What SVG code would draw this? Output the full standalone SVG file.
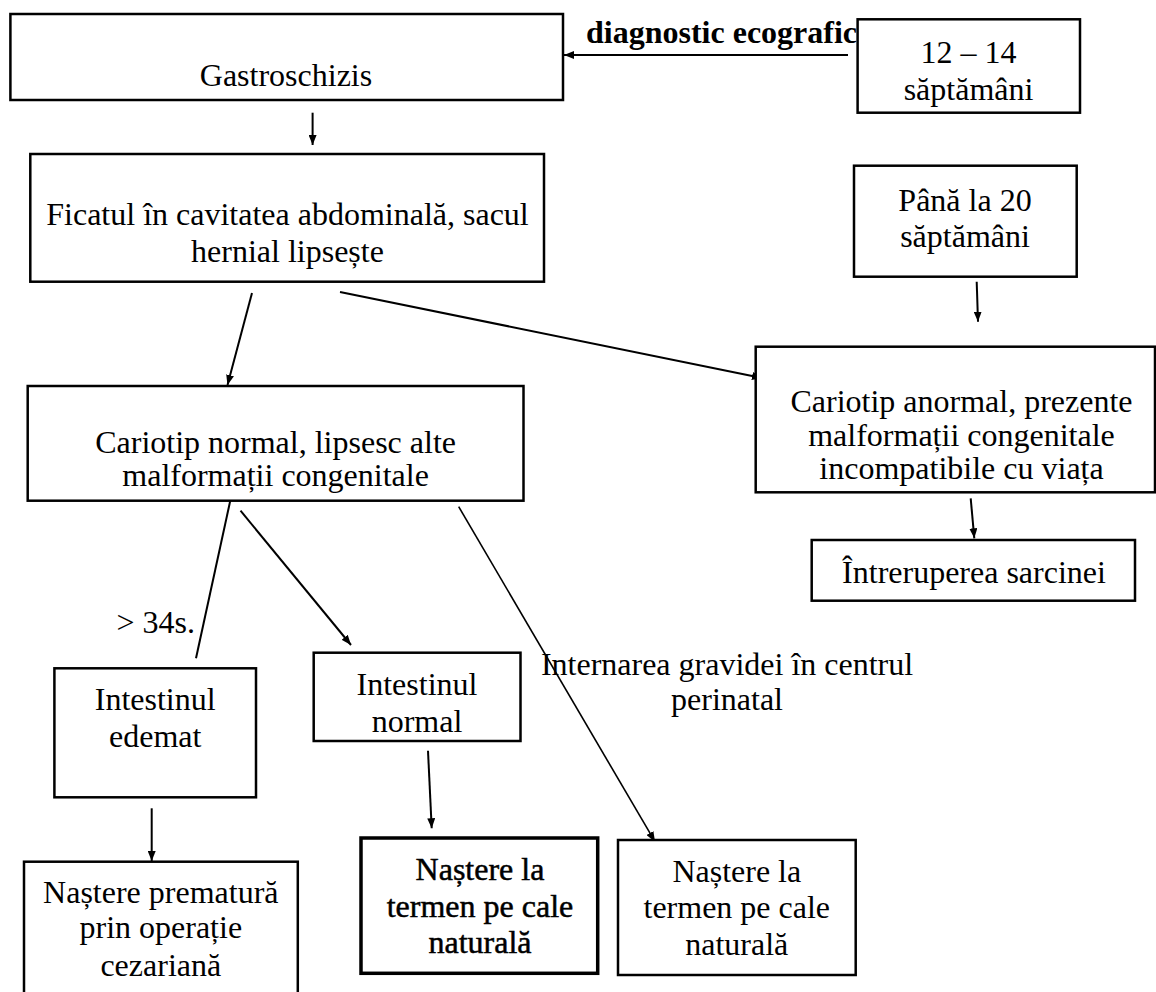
<svg xmlns="http://www.w3.org/2000/svg" width="1156" height="992" viewBox="0 0 1156 992">
<style>
  .box { fill: #fff; stroke: #000; stroke-width: 2.5; }
  .thick { stroke-width: 3.5; }
  .t { font-family: "Liberation Serif", "Times New Roman", serif; font-size: 32px; fill: #000; text-anchor: middle; }
  .tl { text-anchor: start; }
  .b { font-weight: bold; }
  .heavy { stroke: #000; stroke-width: 0.5; }
  .c { stroke: #000; stroke-width: 2; fill: none; }
  .thin { stroke-width: 1.6; }
</style>
<defs>
  <marker id="ah" viewBox="0 0 10 8" markerWidth="10" markerHeight="8" refX="10" refY="4" orient="auto" markerUnits="userSpaceOnUse">
    <path d="M0,0 L10,4 L0,8 z" fill="#000"/>
  </marker>
</defs>
<rect width="1156" height="992" fill="#fff"/>

<g id="connectors">
  <line class="c" x1="848" y1="55" x2="564" y2="55" marker-end="url(#ah)"/>
  <line class="c" x1="312.6" y1="112.7" x2="312.6" y2="145" marker-end="url(#ah)"/>
  <line class="c" x1="252" y1="293" x2="227.5" y2="385" marker-end="url(#ah)"/>
  <line class="c" x1="340" y1="292" x2="762" y2="378" marker-end="url(#ah)"/>
  <line class="c" x1="976.7" y1="281.7" x2="978" y2="321.7" marker-end="url(#ah)"/>
  <line class="c" x1="970.7" y1="498.3" x2="974.3" y2="538.3" marker-end="url(#ah)"/>
  <line class="c" x1="231" y1="497.3" x2="196" y2="658.3"/>
  <line class="c" x1="240.5" y1="510.7" x2="351" y2="645" marker-end="url(#ah)"/>
  <line class="c thin" x1="458.7" y1="506.7" x2="655" y2="841.7" marker-end="url(#ah)"/>
  <line class="c" x1="151.7" y1="808.3" x2="151.7" y2="861" marker-end="url(#ah)"/>
  <line class="c" x1="428" y1="750.7" x2="431.7" y2="828.3" marker-end="url(#ah)"/>
</g>

<g id="label-diagnostic">
  <text class="t tl b" x="586" y="43.3">diagnostic ecografic</text>
</g>
<g id="label-34s">
  <text class="t tl" x="116.5" y="633.3">&gt; 34s.</text>
</g>
<g id="label-internarea">
  <text class="t" x="727" y="675">Internarea gravidei în centrul</text>
  <text class="t" x="727" y="710">perinatal</text>
</g>

<g id="n-gastroschizis">
  <rect class="box" x="10.4" y="14" width="552.6" height="86"/>
  <text class="t" x="286" y="86">Gastroschizis</text>
</g>
<g id="n-12-14">
  <rect class="box" x="857.6" y="19.3" width="222.4" height="93.4"/>
  <text class="t" x="968.5" y="63.3">12 – 14</text>
  <text class="t" x="968.5" y="100">săptămâni</text>
</g>
<g id="n-ficatul">
  <rect class="box" x="30.3" y="154" width="513.7" height="127.7"/>
  <text class="t" x="287.5" y="225">Ficatul în cavitatea abdominală, sacul</text>
  <text class="t" x="287.5" y="262">hernial lipsește</text>
</g>
<g id="n-pana-la-20">
  <rect class="box" x="854" y="165.7" width="222.7" height="111"/>
  <text class="t" x="965" y="210.7">Până la 20</text>
  <text class="t" x="965" y="247.3">săptămâni</text>
</g>
<g id="n-cariotip-normal">
  <rect class="box" x="27.7" y="386" width="495.8" height="114.7"/>
  <text class="t" x="275.6" y="453.3">Cariotip normal, lipsesc alte</text>
  <text class="t" x="275.6" y="486">malformații congenitale</text>
</g>
<g id="n-cariotip-anormal">
  <rect class="box" x="755.7" y="346.7" width="399.3" height="145.6"/>
  <text class="t" x="961.5" y="412">Cariotip anormal, prezente</text>
  <text class="t" x="961.5" y="445.5">malformații congenitale</text>
  <text class="t" x="961.5" y="479">incompatibile cu viața</text>
</g>
<g id="n-intreruperea">
  <rect class="box" x="811.7" y="540" width="323.3" height="60.7"/>
  <text class="t" x="974" y="583.3">Întreruperea sarcinei</text>
</g>
<g id="n-intestinul-edemat">
  <rect class="box" x="54.4" y="668.3" width="201.6" height="129"/>
  <text class="t" x="155.2" y="710">Intestinul</text>
  <text class="t" x="155.2" y="747.3">edemat</text>
</g>
<g id="n-intestinul-normal">
  <rect class="box" x="313.7" y="652.7" width="206.8" height="88.3"/>
  <text class="t" x="417" y="695">Intestinul</text>
  <text class="t" x="417" y="731.7">normal</text>
</g>
<g id="n-nastere-prematura">
  <rect class="box" x="24" y="861.7" width="273.8" height="140"/>
  <text class="t" x="160.8" y="902.7">Naștere prematură</text>
  <text class="t" x="160.8" y="938.3">prin operație</text>
  <text class="t" x="160.8" y="976">cezariană</text>
</g>
<g id="n-nastere-termen-1">
  <rect class="box thick" x="361" y="838" width="236.7" height="135.3"/>
  <text class="t heavy" x="480" y="880">Naștere la</text>
  <text class="t heavy" x="480" y="916.7">termen pe cale</text>
  <text class="t heavy" x="480" y="953.3">naturală</text>
</g>
<g id="n-nastere-termen-2">
  <rect class="box" x="618" y="840" width="237.7" height="135"/>
  <text class="t" x="736.8" y="881.7">Naștere la</text>
  <text class="t" x="736.8" y="918.3">termen pe cale</text>
  <text class="t" x="736.8" y="955">naturală</text>
</g>
</svg>
